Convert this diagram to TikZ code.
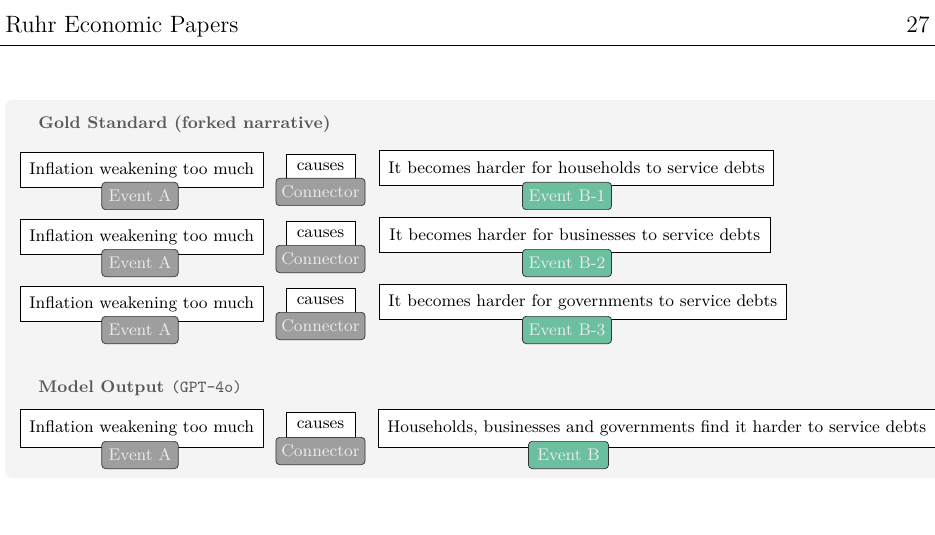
\documentclass[tikz,border=0pt]{standalone}
\usepackage{tikz}
\usetikzlibrary{positioning}
\usepackage{xcolor}
\definecolor{tagteal}{HTML}{6CC0A0}
\definecolor{tagfill}{HTML}{9E9E9E}
\definecolor{panelbg}{HTML}{F4F4F4}
\newcommand{\boxfont}{\fontsize{9.3}{11}\selectfont}
\begin{document}
\begin{tikzpicture}[x=0.55pt, y=-0.55pt]
        % ================= 样式定义 =================
        \tikzset{
            % 文本框:白底黑边
            span/.style={draw=black, fill=white, minimum height=19.5pt, inner xsep=5pt, anchor=west, font=\boxfont},
            % 连接词框
            conn/.style={draw=black, fill=white, minimum height=14pt, minimum width=38pt, inner sep=2pt, font=\boxfont},
            % 标签:圆角灰底
            tag/.style={draw=black!80, rounded corners=2pt, fill=tagfill, text=black!8, minimum height=15pt, inner sep=2pt, font=\boxfont},
            evtag/.style={tag, fill=tagteal, minimum width=49pt},
            ttl/.style={anchor=west, font=\boxfont\bfseries, text=black!65}
        }
        \useasboundingbox (0,0) rectangle (935,535);

        % ================= 页眉 =================
        \node[anchor=base west, font=\fontsize{13}{15}\selectfont, inner sep=0pt] (hdl) at (5,33) {Ruhr Economic Papers};
        \node[anchor=base east, font=\fontsize{13}{15}\selectfont, inner sep=0pt] (hdr) at (930,33) {27};
        \draw[line width=0.4pt] (0,45) -- (935,45);

        % ================= 背景面板 =================
        \fill[panelbg, rounded corners=4pt] (5,100) rectangle (945,478);

        % Gold Standard
        \node[ttl] (gold) at (32,124) {Gold Standard (forked narrative)};

        \foreach \r/\dy/\who/\lab in {1/0/households/B-1, 2/67/businesses/B-2, 3/134/governments/B-3}{
            \node[span, minimum width=132pt] (a\r) at (20,170+\dy) {Inflation weakening too much};
            \node[tag, minimum width=42pt] (at\r) at (140,196+\dy) {Event A};
            \node[conn] (c\r) at (320.5,167+\dy) {causes};
            \node[tag, minimum width=49pt] (ct\r) at (320.5,192+\dy) {Connector};
            \node[span, minimum width=215pt] (b\r) at (379,168+\dy) {It becomes harder for \who\ to service debts};
            \node[evtag] (bt\r) at (567,196+\dy) {Event \lab};
        }

        % Model Output
        \node[ttl] (model) at (32,388) {Model Output \textmd{\texttt{(GPT-4o)}}};
        \node[span, minimum width=132pt, minimum height=21pt] (a4) at (20,428) {Inflation weakening too much};
        \node[tag, minimum width=42pt] (at4) at (140,455) {Event A};
        \node[conn] (c4) at (320.5,425) {causes};
        \node[tag, minimum width=49pt] (ct4) at (320.5,451) {Connector};
        \node[span, minimum width=303pt, minimum height=21pt] (b4) at (378,428) {Households, businesses and governments find it harder to service debts};
        \node[evtag, minimum width=44pt] (bt4) at (568.5,455) {Event B};
\end{tikzpicture}
\end{document}
